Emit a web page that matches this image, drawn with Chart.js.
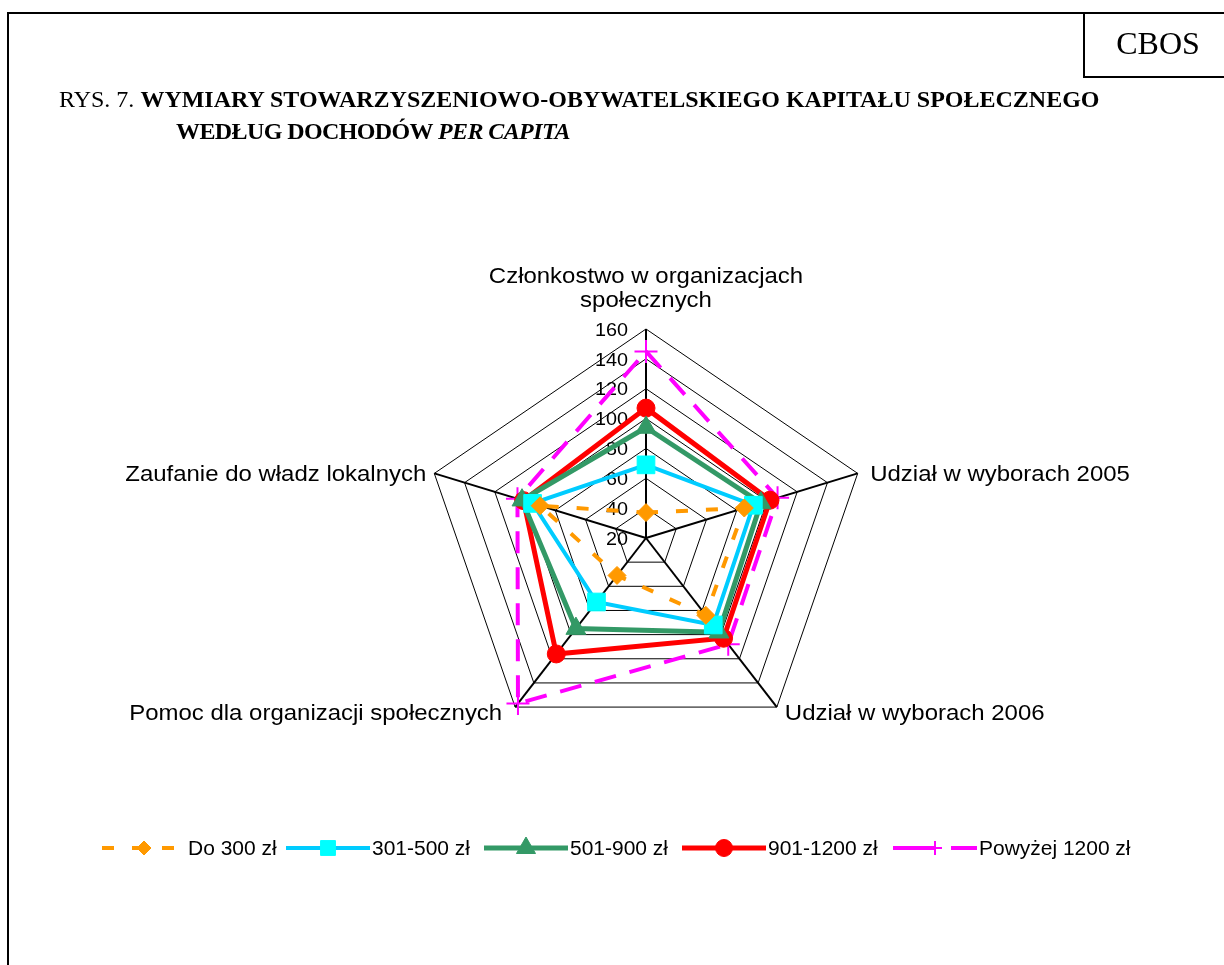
<!DOCTYPE html>
<html>
<head>
<meta charset="utf-8">
<script src="https://cdn.jsdelivr.net/npm/chart.js@4.4.1/dist/chart.umd.min.js"></script>
<style>
  html, body { margin: 0; padding: 0; background: #fff; width: 1224px; height: 965px; overflow: hidden; }
  #c { position: absolute; left: 0; top: 0; }
  .ln { position: absolute; background: #000; }
  #cbosText { position: absolute; left: 1088px; top: 26.5px; width: 140px; text-align: center;
    font-family: "Liberation Serif", "Times New Roman", serif; font-size: 32px; line-height: 32px; color: #000; }
  .title { position: absolute; white-space: nowrap; font-family: "Liberation Serif", "Times New Roman", serif;
    font-size: 24px; line-height: 24px; color: #000; }
  .title b { font-weight: bold; }
</style>
</head>
<body>
<canvas id="c" width="1224" height="965"></canvas>
<div class="ln" style="left:7px;top:12px;width:1217px;height:2px;"></div>
<div class="ln" style="left:7px;top:12px;width:2px;height:953px;"></div>
<div class="ln" style="left:1083px;top:12px;width:2px;height:66px;"></div>
<div class="ln" style="left:1083px;top:76px;width:141px;height:2px;"></div>
<div id="cbosText">CBOS</div>
<div class="title" style="left:59px;top:87px;">RYS. 7. <b>WYMIARY STOWARZYSZENIOWO-OBYWATELSKIEGO KAPITAŁU SPOŁECZNEGO</b></div>
<div class="title" style="left:176px;top:119px;letter-spacing:-0.6px;"><b>WEDŁUG DOCHODÓW <i>PER CAPITA</i></b></div>
<script>
// ---------- data ----------
const categories = [
  ['Członkostwo w organizacjach', 'społecznych'],
  'Udział w wyborach 2005',
  'Udział w wyborach 2006',
  'Pomoc dla organizacji społecznych',
  'Zaufanie do władz lokalnych'
];
const seriesNames = ['Do 300 zł', '301-500 zł', '501-900 zł', '901-1200 zł', 'Powyżej 1200 zł'];
const do300 = [37, 85, 84, 51, 90];
const from301to500 = [69, 91, 92, 73, 95];
const from501to900 = [94, 96, 98, 95, 102];
const from901to1200 = [107, 102, 103, 116, 101];
const above1200 = [145, 107, 108, 157, 105];
const tickValues = [20, 40, 60, 80, 100, 120, 140, 160];

// ---------- styles ----------
const STRETCH = 1.065;
const styles = [
  { color: '#FF9900', fill: '#FF9900', width: 4, dash: [12, 18], legendDash: [12, 18], point: 'rectRot', r: 9, lr: 7, pbw: 1 },
  { color: '#00CCFF', fill: '#00FFFF', width: 4, dash: [], legendDash: [], point: 'rect', r: 12.5, lr: 10.5, pbw: 1 },
  { color: '#339966', fill: '#339966', width: 5, dash: [], legendDash: [], point: 'triangle', r: 11.5, lr: 11, pbw: 1 },
  { color: '#FF0000', fill: '#FF0000', width: 5, dash: [], legendDash: [], point: 'circle', r: 9, lr: 8.5, pbw: 1 },
  { color: '#FF00FF', fill: '#FF00FF', width: 4, dash: [22, 14], legendDash: [43, 15], point: 'cross', r: 11.5, lr: 7, pbw: 2 }
];
const seriesData = [do300, from301to500, from501to900, from901to1200, above1200];
const legendStartX = [102, 286, 484, 682, 893];
const LEGEND_Y = 848;

// radial scale, stretched horizontally like the original picture
class StretchedRadialScale extends Chart.RadialLinearScale {
  getPointPosition(index, distanceFromCenter, additionalAngle = 0) {
    const p = super.getPointPosition(index, distanceFromCenter, additionalAngle);
    return { x: this.xCenter + (p.x - this.xCenter) * STRETCH, y: p.y, angle: p.angle };
  }
}
StretchedRadialScale.id = 'stretchedRadial';
Chart.register(StretchedRadialScale);

function sText(ctx, text, x, y, align) {
  ctx.save();
  ctx.translate(x, y);
  ctx.scale(STRETCH, 1);
  ctx.textAlign = align;
  ctx.textBaseline = 'alphabetic';
  ctx.fillText(text, 0, 0);
  ctx.restore();
}

function marker(ctx, style, x, y, r, fill, stroke, bw) {
  ctx.save();
  ctx.setLineDash([]);
  ctx.fillStyle = fill; ctx.strokeStyle = stroke; ctx.lineWidth = bw;
  ctx.beginPath();
  if (style === 'rectRot') {
    ctx.moveTo(x - r, y); ctx.lineTo(x, y - r); ctx.lineTo(x + r, y); ctx.lineTo(x, y + r); ctx.closePath();
    ctx.fill(); ctx.stroke();
  } else if (style === 'rect') {
    const s = r * Math.SQRT1_2;
    ctx.rect(x - s, y - s, 2 * s, 2 * s); ctx.fill(); ctx.stroke();
  } else if (style === 'triangle') {
    ctx.moveTo(x, y - r); ctx.lineTo(x + 0.866 * r, y + 0.5 * r); ctx.lineTo(x - 0.866 * r, y + 0.5 * r); ctx.closePath();
    ctx.fill(); ctx.stroke();
  } else if (style === 'circle') {
    ctx.arc(x, y, r, 0, Math.PI * 2); ctx.fill(); ctx.stroke();
  } else if (style === 'cross') {
    ctx.moveTo(x, y - r); ctx.lineTo(x, y + r); ctx.moveTo(x - r, y); ctx.lineTo(x + r, y); ctx.stroke();
  }
  ctx.restore();
}

const decorPlugin = {
  id: 'decor',
  beforeDatasetsDraw(chart) {
    const ctx = chart.ctx, sc = chart.scales.r;
    ctx.save();
    ctx.fillStyle = '#000';
    ctx.font = '18.6px "Liberation Sans", Arial, sans-serif';
    tickValues.forEach(v => {
      const y = sc.yCenter - sc.getDistanceFromCenterForValue(v);
      sText(ctx, String(v), sc.xCenter - 18, y + 6.7, 'right');
    });
    ctx.restore();
  },
  afterDraw(chart) {
    const ctx = chart.ctx, sc = chart.scales.r;
    ctx.save();
    ctx.fillStyle = '#000';
    ctx.font = '22.5px "Liberation Sans", Arial, sans-serif';
    const R = sc.drawingArea;
    const p = categories.map((c, i) => sc.getPointPosition(i, R));
    sText(ctx, categories[0][0], p[0].x, p[0].y - 46, 'center');
    sText(ctx, categories[0][1], p[0].x, p[0].y - 22, 'center');
    sText(ctx, categories[1], p[1].x + 12.5, p[1].y + 8, 'left');
    sText(ctx, categories[2], p[2].x + 8, p[2].y + 13, 'left');
    sText(ctx, categories[3], p[3].x - 13, p[3].y + 13, 'right');
    sText(ctx, categories[4], p[4].x - 8, p[4].y + 8, 'right');

    // legend
    ctx.font = '19.7px "Liberation Sans", Arial, sans-serif';
    seriesNames.forEach((name, i) => {
      const st = styles[i], x0 = legendStartX[i];
      ctx.save();
      ctx.strokeStyle = st.color; ctx.lineWidth = st.width; ctx.setLineDash(st.legendDash);
      ctx.beginPath(); ctx.moveTo(x0, LEGEND_Y); ctx.lineTo(x0 + 84, LEGEND_Y); ctx.stroke();
      ctx.restore();
      marker(ctx, st.point, x0 + 42, LEGEND_Y, st.lr, st.fill, st.fill, st.pbw);
      ctx.fillStyle = '#000';
      sText(ctx, name, x0 + 86, LEGEND_Y + 7, 'left');
    });
    ctx.restore();
  }
};

new Chart(document.getElementById('c'), {
  type: 'radar',
  data: {
    labels: categories,
    datasets: seriesData.map((d, i) => ({
      label: seriesNames[i],
      data: d,
      fill: false,
      clip: false,
      borderColor: styles[i].color,
      borderWidth: styles[i].width,
      borderDash: styles[i].dash,
      pointStyle: styles[i].point,
      pointRadius: styles[i].r,
      pointHoverRadius: styles[i].r,
      pointBackgroundColor: styles[i].fill,
      pointBorderColor: styles[i].fill,
      pointBorderWidth: styles[i].pbw,
      tension: 0
    }))
  },
  options: {
    responsive: false,
    animation: false,
    events: [],
    layout: { padding: { left: 416, right: 348, top: 329, bottom: 218 } },
    plugins: { legend: { display: false }, tooltip: { enabled: false }, title: { display: false } },
    scales: {
      r: {
        type: 'stretchedRadial',
        min: 20, max: 160,
        ticks: { display: false, stepSize: 20 },
        grid: { color: '#000', lineWidth: 1 },
        angleLines: { display: true, color: '#000', lineWidth: 2 },
        pointLabels: { display: false }
      }
    }
  },
  plugins: [decorPlugin]
});
</script>
</body>
</html>
